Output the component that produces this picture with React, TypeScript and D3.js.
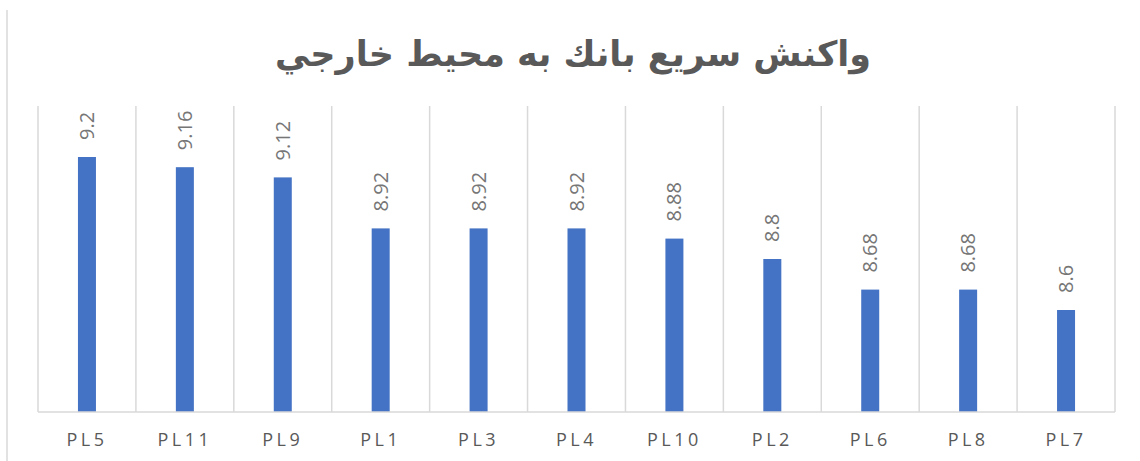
import { scaleBand, scaleLinear } from "d3";

const categories = ["PL5", "PL11", "PL9", "PL1", "PL3", "PL4", "PL10", "PL2", "PL6", "PL8", "PL7"];
const values = [9.2, 9.16, 9.12, 8.92, 8.92, 8.92, 8.88, 8.8, 8.68, 8.68, 8.6];
const title = "واكنش سريع بانك به محيط خارجي";

const width = 1140;
const height = 461;
const left = 38;
const right = 1115;
const top = 106;
const bottom = 412;
const barWidth = 18;

const App = () => {
  const x = scaleBand<string>().domain(categories).range([left, right]);
  const y = scaleLinear().domain([8.2, 9.4]).range([bottom, top]);
  const grid = "#d9d9d9";

  return (
    <svg
      width={width}
      height={height}
      style={{ position: "absolute", left: 0, top: 0, background: "#fff" }}
    >
      <line x1={7} x2={7} y1={10} y2={height} stroke={grid} strokeWidth={1.5} />
      <text
        x={573}
        y={66}
        textAnchor="middle"
        fontFamily="DejaVu Sans"
        fontWeight="bold"
        fontSize={35}
        fill="#595959"
        direction="rtl"
      >
        {title}
      </text>

      {/* category separators */}
      {[...categories.map((c) => x(c)!), right].map((gx, i) => (
        <line key={i} x1={gx} x2={gx} y1={top} y2={bottom} stroke={grid} strokeWidth={1.5} />
      ))}

      {values.map((v, i) => {
        const cx = x(categories[i])! + x.bandwidth() / 2;
        const ty = y(v);
        return (
          <g key={categories[i]}>
            <rect x={cx - barWidth / 2} y={ty} width={barWidth} height={bottom - ty} fill="#4472c4" />
            <text
              transform={`translate(${cx},${ty - 17}) rotate(-90)`}
              dy="0.35em"
              textAnchor="start"
              fontFamily="Open Sans"
              fontSize={20}
              fill="#767676"
            >
              {v}
            </text>
          </g>
        );
      })}

      <line x1={left} x2={right} y1={bottom} y2={bottom} stroke={grid} strokeWidth={1.5} />

      {categories.map((c) => (
        <text
          key={c}
          x={x(c)! + x.bandwidth() / 2}
          y={446}
          textAnchor="middle"
          fontFamily="Open Sans"
          fontSize={18}
          letterSpacing={3.5}
          fill="#595959"
        >
          {c}
        </text>
      ))}
    </svg>
  );
};

export default App;
